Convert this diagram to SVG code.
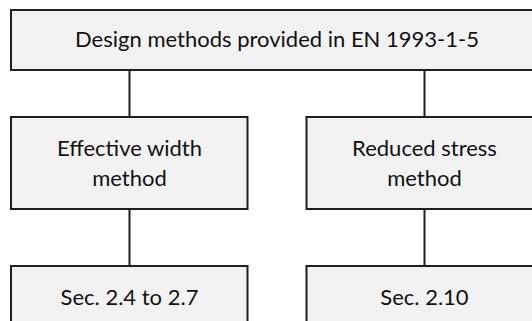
<svg xmlns="http://www.w3.org/2000/svg" width="532" height="321" viewBox="0 0 532 321">
<style>
.box{fill:#f2f2f2;stroke:#1e1e1e;stroke-width:2}
.conn{stroke:#1e1e1e;stroke-width:2;fill:none}
text{font-family:Lato,"Open Sans","Liberation Sans",sans-serif;font-size:22px;fill:#111;text-anchor:middle}
</style>
<rect width="532" height="321" fill="#ffffff"/>
<g id="connectors">
<line class="conn" x1="129.5" y1="70" x2="129.5" y2="117"/>
<line class="conn" x1="424.5" y1="70" x2="424.5" y2="117"/>
<line class="conn" x1="129.5" y1="209" x2="129.5" y2="266"/>
<line class="conn" x1="424.5" y1="209" x2="424.5" y2="266"/>
</g>
<g id="root">
<rect class="box" x="11" y="10" width="532" height="60"/>
<text x="277" y="46.5">Design methods provided in EN 1993-1-5</text>
</g>
<g id="effective">
<rect class="box" x="11" y="117" width="236.5" height="92"/>
<text x="129.5" y="156">Effective width</text>
<text x="129.5" y="185.5">method</text>
</g>
<g id="reduced">
<rect class="box" x="306.5" y="117" width="236.5" height="92"/>
<text x="424.5" y="156">Reduced stress</text>
<text x="424.5" y="185.5">method</text>
</g>
<g id="sec1">
<rect class="box" x="11" y="266" width="236.5" height="70"/>
<text x="129.5" y="304.5">Sec. 2.4 to 2.7</text>
</g>
<g id="sec2">
<rect class="box" x="306.5" y="266" width="236.5" height="70"/>
<text x="424.5" y="304.5">Sec. 2.10</text>
</g>
</svg>
